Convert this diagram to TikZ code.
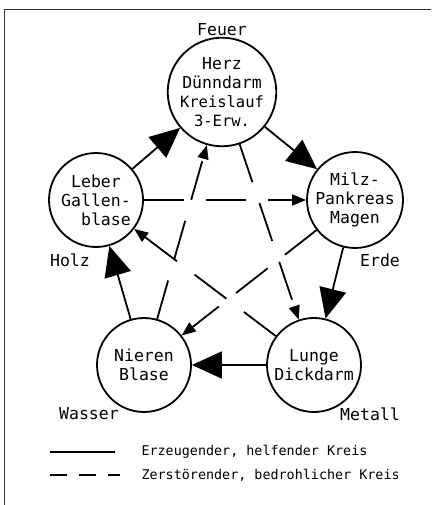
\documentclass[tikz,border=0pt]{standalone}
\usepackage{fontspec}
\setmonofont{DejaVu Sans Mono}
\usetikzlibrary{arrows.meta}

\begin{document}
\begin{tikzpicture}[
    x=1pt, y=-1pt,
    element/.style={circle, draw, line width=1.8pt, minimum size=94pt, inner sep=0pt, align=center,
        font=\ttfamily\fontsize{16.5}{19}\selectfont},
    phase/.style={font=\ttfamily\fontsize{16.5}{19}\selectfont},
    legend/.style={anchor=west, font=\ttfamily\fontsize{13.4}{16}\selectfont},
    gen/.style={-{Triangle[length=30pt, width=27pt]}, line width=1.8pt},
    ctrl/.style={-{Triangle[length=14pt, width=11pt]}, line width=1.8pt, dash pattern=on 40pt off 22pt}
]
\useasboundingbox (0,0) rectangle (431,505);

% frame (cut at right and bottom)
\draw[line width=1.6pt, black!80] (4.5,505) -- (4.5,9.5) -- (431,9.5);

% Elements
\node[element] (herz) at (222,92) {Herz\\D\"unndarm\\{\fontsize{15.5}{18}\selectfont Kreislauf}\\{\fontsize{15.5}{18}\selectfont 3-Erw.}};
\node[element] (milz) at (355,200) {Milz-\\Pankreas\\Magen};
\node[element] (lunge) at (314,365) {Lunge\\Dickdarm};
\node[element] (nieren) at (144,365) {Nieren\\Blase};
\node[element] (leber) at (96,200) {Leber\\Gallen-\\\hphantom{xx}blase};

% Phase names
\node[phase] (feuer) at (222,30) {Feuer};
\node[phase] (erde) at (380,260) {Erde};
\node[phase] (metall) at (370,414) {Metall};
\node[phase] (wasser) at (89,414) {Wasser};
\node[phase] (holz) at (70,260) {Holz};

% Generating cycle
\draw[gen] (leber) -- (herz);
\draw[gen] (herz) -- (milz);
\draw[gen] (milz) -- (lunge);
\draw[gen] (lunge) -- (nieren);
\draw[gen] (nieren) -- (leber);

% Controlling cycle
\draw[ctrl] (leber) -- (milz);
\draw[ctrl] (milz) -- (nieren);
\draw[ctrl] (nieren) -- (herz);
\draw[ctrl] (herz) -- (lunge);
\draw[ctrl] (lunge) -- (leber);

% Legend
\coordinate (l1a) at (50,452);
\coordinate (l1b) at (115,452);
\coordinate (l2a) at (50,475);
\coordinate (l2b) at (120,475);
\draw[line width=1.8pt] (l1a) -- (l1b);
\draw[line width=1.8pt, dash pattern=on 17pt off 12pt] (l2a) -- (l2b);
\node[legend] (t1) at (138,452) {Erzeugender, helfender Kreis};
\node[legend] (t2) at (138,475) {Zerst\"orender, bedrohlicher Kreis};

\end{tikzpicture}
\end{document}
